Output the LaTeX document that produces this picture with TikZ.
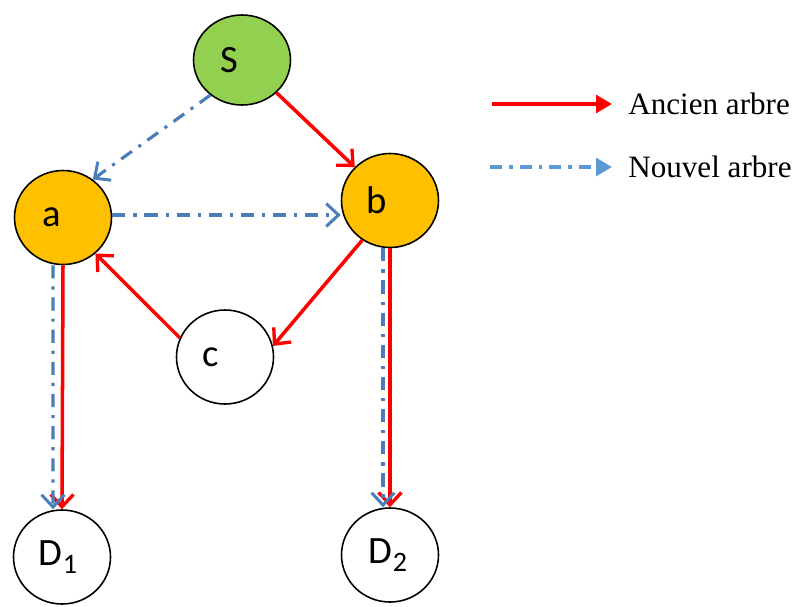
\documentclass[tikz,border=0pt]{standalone}
\usepackage{fontspec}
\setmainfont{Liberation Serif}
\newfontfamily\calib{Carlito}
\usepackage{xcolor}
\usetikzlibrary{shapes.geometric,arrows.meta,positioning}
\definecolor{sgreen}{HTML}{92D050}
\definecolor{orangefill}{HTML}{FFC000}
\definecolor{oldred}{HTML}{FF0000}
\definecolor{newblue}{HTML}{4A7EBB}
\definecolor{legblue}{HTML}{5B9BD5}
\newcommand{\idx}[1]{\raisebox{-0.22em}{\fontsize{16}{18}\selectfont #1}}
\tikzset{
  tree/.style={ellipse, draw=black, line width=0.9pt, fill=white,
               minimum width=1.94cm, minimum height=1.88cm, inner sep=0pt},
  lbl/.style={font=\calib\fontsize{22}{26}\selectfont, inner sep=0pt},
  oldflow/.style={-{Straight Barb[length=7pt,width=13pt,line width=1.9pt]},
                  line width=2pt, oldred},
  newflow/.style={-{Straight Barb[length=7pt,width=13pt,line width=1.7pt]},
                  line width=1.8pt, newblue,
                  dash pattern=on 7.5pt off 4.5pt on 1.8pt off 4.5pt},
  legtext/.style={font=\fontsize{17.7}{20}\selectfont, inner sep=0pt, anchor=west},
}
\begin{document}
\begin{tikzpicture}
\useasboundingbox (0,0) rectangle (16,-12.12);

% tree nodes
\node[tree, fill=sgreen, minimum height=1.8cm] (S) at (4.84,-1.2)
      [label={[lbl, xshift=-0.26cm]center:S}] {};
\node[tree, fill=orangefill] (a) at (1.26,-4.35)
      [label={[lbl, xshift=-0.22cm]center:a}] {};
\node[tree, fill=orangefill] (b) at (7.8,-4.01)
      [label={[lbl, xshift=-0.26cm]center:b}] {};
\node[tree] (c) at (4.5,-7.14)
      [label={[lbl, xshift=-0.28cm]center:c}] {};
\node[tree] (D1) at (1.24,-11.14)
      [label={[lbl, xshift=-0.08cm]center:D\idx{1}}] {};
\node[tree] (D2) at (7.8,-11.1)
      [label={[lbl, xshift=-0.04cm]center:D\idx{2}}] {};

% old tree
\draw[oldflow] (S) -- (b);
\draw[oldflow] (b.235) -- (c.13);
\draw[oldflow] (c.157) -- (a.-48);
\draw[oldflow] (a.south) -- (D1.north);
\draw[oldflow] (b.south) -- (D2.north);

% new tree
\draw[newflow] (S.228) -- (a.52);
\draw[newflow] (a.east |- 0,-4.3) -- (b.west |- 0,-4.3);
\draw[newflow] ([xshift=-0.2cm]a.south) -- ([xshift=-0.18cm]D1.north);
\draw[newflow] ([xshift=-0.14cm]b.south) -- ([xshift=-0.14cm]D2.north);

% legend
\coordinate (redS) at (9.84,-2.08);
\coordinate (redE) at (12.24,-2.08);
\coordinate (blueS) at (9.8,-3.34);
\coordinate (blueE) at (12.24,-3.34);
\draw[-{Triangle[length=9pt,width=10pt]}, line width=2pt, oldred] (redS) -- (redE);
\draw[-{Triangle[length=9pt,width=10pt]}, line width=2pt, legblue,
      dash pattern=on 7pt off 4pt on 1.8pt off 4pt] (blueS) -- (blueE);
\node[legtext, right=0.32cm of redE] (ancien) {Ancien arbre};
\node[legtext, right=0.32cm of blueE] (nouvel) {Nouvel arbre};

\end{tikzpicture}
\end{document}
